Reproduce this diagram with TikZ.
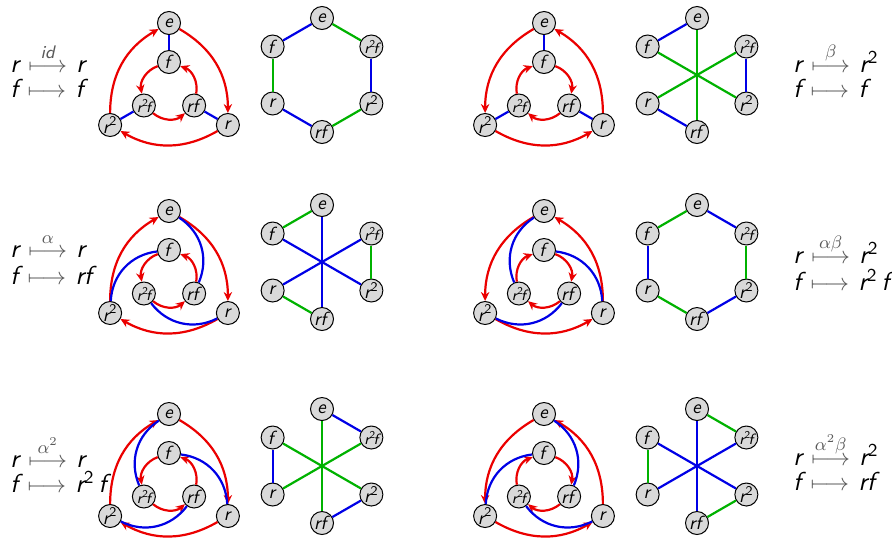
\documentclass[tikz,border=0pt]{standalone}
\usepackage{amsmath}
\usetikzlibrary{arrows.meta}
\definecolor{cred}{RGB}{235,0,0}
\definecolor{cblue}{RGB}{0,0,230}
\definecolor{cgreen}{RGB}{0,178,0}
\newcommand\sv[1]{\textsf{\itshape #1}}
\newcommand\tw{\textsf{2}}
\newcommand\gar[1]{\mkern2mu\mathrel{\textcolor{black!65}{\overset{#1}{\longmapsto}}}\mkern2mu}
\newcommand\rrf{$\sv{r}^{\tw}\!\sv{f}$}
\tikzset{
  vx/.style={circle, draw=black, line width=0.5pt, fill=black!15, minimum size=11.5pt,
    inner sep=0pt, font=\fontsize{9.5}{10}\selectfont},
  sm/.style={font=\fontsize{7.5}{8}\selectfont},
  redarr/.style={draw=cred, line width=1.1pt, -{Stealth[length=4.5pt,width=4.2pt]}},
  bl/.style={draw=cblue, line width=1.1pt},
  gr/.style={draw=cgreen, line width=1.1pt},
  lbl/.style={anchor=base west, inner sep=0pt, font=\fontsize{13}{15}\selectfont}
}
\newcommand\cay[3]{%
\begin{scope}[shift={(#2,-#3)}]
\node[vx] (#1e) at (90:68) {\sv{e}};
\node[vx] (#1r) at (-30:68) {\sv{r}};
\node[vx] (#1rr) at (210:68) {$\sv{r}^{\tw}$};
\node[vx] (#1f) at (90:29) {\sv{f}};
\node[vx] (#1rf) at (-30:29) {\sv{rf}};
\node[vx,sm] (#1rrf) at (210:29) {\rrf};
\end{scope}}
\newcommand\hexv[3]{%
\begin{scope}[shift={(#2,-#3)}]
\node[vx] (#1e) at (90:57) {\sv{e}};
\node[vx,sm] (#1rrf) at (30:57) {\rrf};
\node[vx] (#1rr) at (-30:57) {$\sv{r}^{\tw}$};
\node[vx] (#1rf) at (-90:57) {\sv{rf}};
\node[vx] (#1r) at (210:57) {\sv{r}};
\node[vx] (#1f) at (150:57) {\sv{f}};
\end{scope}}
\newcommand\redA[1]{%
 \draw[redarr] (#1e) to[bend left=30] (#1r);
 \draw[redarr] (#1r) to[bend left=30] (#1rr);
 \draw[redarr] (#1rr) to[bend left=30] (#1e);
 \draw[redarr] (#1f) to[bend right=40] (#1rrf);
 \draw[redarr] (#1rrf) to[bend right=40] (#1rf);
 \draw[redarr] (#1rf) to[bend right=40] (#1f);}
\newcommand\redB[1]{%
 \draw[redarr] (#1e) to[bend right=30] (#1rr);
 \draw[redarr] (#1rr) to[bend right=30] (#1r);
 \draw[redarr] (#1r) to[bend right=30] (#1e);
 \draw[redarr] (#1f) to[bend left=40] (#1rf);
 \draw[redarr] (#1rf) to[bend left=40] (#1rrf);
 \draw[redarr] (#1rrf) to[bend left=40] (#1f);}
\newcommand\bluS[1]{%
 \draw[bl] (#1e) -- (#1f);
 \draw[bl] (#1r) -- (#1rf);
 \draw[bl] (#1rr) -- (#1rrf);}
\newcommand\bluL[1]{%
 \draw[bl] (#1e) to[bend left=40] (#1rf);
 \draw[bl] (#1r) to[bend left=40] (#1rrf);
 \draw[bl] (#1rr) to[bend left=40] (#1f);}
\newcommand\bluR[1]{%
 \draw[bl] (#1e) to[bend right=40] (#1rrf);
 \draw[bl] (#1r) to[bend right=40] (#1f);
 \draw[bl] (#1rr) to[bend right=40] (#1rf);}
\begin{document}
\begin{tikzpicture}[x=0.5pt,y=0.5pt]
\useasboundingbox[fill=white] (0,0) rectangle (892,-537);
% ---------- row 1 ----------
\cay{ca}{169}{91} \redA{ca} \bluS{ca}
\hexv{ha}{322}{75}
\draw[bl] (hae) -- (haf); \draw[bl] (harrf) -- (harr); \draw[bl] (harf) -- (har);
\draw[gr] (hae) -- (harrf); \draw[gr] (harr) -- (harf); \draw[gr] (har) -- (haf);
\cay{cb}{544}{91} \redB{cb} \bluS{cb}
\hexv{hb}{697}{75}
\draw[bl] (hbe) -- (hbf); \draw[bl] (hbrrf) -- (hbrr); \draw[bl] (hbr) -- (hbrf);
\draw[gr] (hbe) -- (hbrf); \draw[gr] (hbf) -- (hbrr); \draw[gr] (hbrrf) -- (hbr);
\node[lbl] (la1) at (10,-72) {$\sv{r}\gar{\sv{id}}\sv{r}$};
\node[lbl] (la2) at (10,-97) {$\sv{f}\gar{}\sv{f}$};
\node[lbl] (lb1) at (793,-72) {$\sv{r}\gar{\beta}\sv{r}^{\tw}$};
\node[lbl] (lb2) at (793,-97) {$\sv{f}\gar{}\sv{f}$};
% ---------- row 2 ----------
\cay{cc}{169}{279} \redA{cc} \bluL{cc}
\hexv{hc}{322}{262}
\draw[gr] (hce) -- (hcf); \draw[gr] (hcrrf) -- (hcrr); \draw[gr] (hcr) -- (hcrf);
\draw[bl] (hce) -- (hcrf); \draw[bl] (hcf) -- (hcrr); \draw[bl] (hcrrf) -- (hcr);
\cay{cd}{544}{279} \redB{cd} \bluR{cd}
\hexv{hd}{697}{262}
\draw[gr] (hde) -- (hdf); \draw[gr] (hdr) -- (hdrf); \draw[gr] (hdrr) -- (hdrrf);
\draw[bl] (hde) -- (hdrrf); \draw[bl] (hdf) -- (hdr); \draw[bl] (hdrf) -- (hdrr);
\node[lbl] (lc1) at (10,-257) {$\sv{r}\gar{\alpha}\sv{r}$};
\node[lbl] (lc2) at (10,-284) {$\sv{f}\gar{}\sv{rf}$};
\node[lbl] (ld1) at (793,-263) {$\sv{r}\gar{\alpha\beta}\sv{r}^{\tw}$};
\node[lbl] (ld2) at (793,-290) {$\sv{f}\gar{}\sv{r}^{\tw}\,\sv{f}$};
% ---------- row 3 ----------
\cay{ce}{169}{482} \redA{ce} \bluR{ce}
\hexv{he}{322}{466}
\draw[bl] (hee) -- (herrf); \draw[bl] (hef) -- (her); \draw[bl] (herr) -- (herf);
\draw[gr] (hee) -- (herf); \draw[gr] (hef) -- (herr); \draw[gr] (herrf) -- (her);
\cay{cf}{544}{482} \redB{cf} \bluL{cf}
\hexv{hf}{697}{466}
\draw[gr] (hfe) -- (hfrrf); \draw[gr] (hff) -- (hfr); \draw[gr] (hfrr) -- (hfrf);
\draw[bl] (hfe) -- (hfrf); \draw[bl] (hff) -- (hfrr); \draw[bl] (hfrrf) -- (hfr);
\node[lbl] (le1) at (10,-467) {$\sv{r}\gar{\alpha^2}\sv{r}$};
\node[lbl] (le2) at (10,-492) {$\sv{f}\gar{}\sv{r}^{\tw}\,\sv{f}$};
\node[lbl] (lf1) at (793,-465) {$\sv{r}\gar{\alpha^2\beta}\sv{r}^{\tw}$};
\node[lbl] (lf2) at (793,-490) {$\sv{f}\gar{}\sv{rf}$};
\end{tikzpicture}
\end{document}
